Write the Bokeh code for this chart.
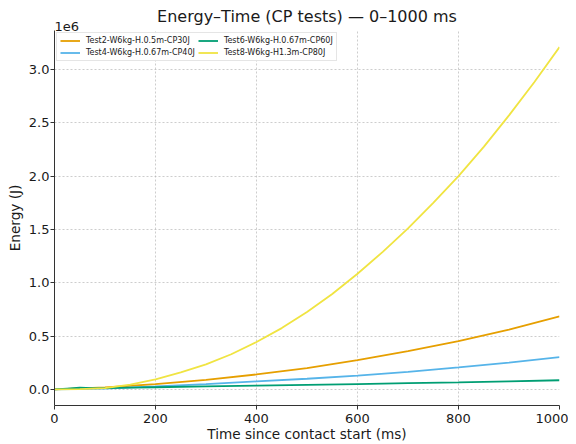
from bokeh.plotting import figure
from bokeh.models import Range1d, FixedTicker, CustomJSTickFormatter, Title, Legend, LegendItem
from bokeh.embed import file_html
from bokeh.resources import INLINE

# ---- data (time in ms, energy in J) ----
t_yellow = [0, 50, 100, 150, 200, 250, 300, 350, 400, 450, 500, 550, 600, 650, 700, 750, 800, 850, 900, 950, 1000]
e_test8 = [0, 0.002e6, 0.012e6, 0.045e6, 0.095e6, 0.16e6, 0.235e6, 0.33e6, 0.445e6, 0.575e6, 0.725e6,
           0.895e6, 1.085e6, 1.29e6, 1.51e6, 1.75e6, 2.0e6, 2.275e6, 2.57e6, 2.88e6, 3.21e6]

t_main = [0, 100, 200, 300, 400, 500, 600, 700, 800, 900, 1000]
e_test2 = [0, 0.018e6, 0.05e6, 0.09e6, 0.14e6, 0.2e6, 0.275e6, 0.36e6, 0.452e6, 0.56e6, 0.684e6]
e_test4 = [0, 0.008e6, 0.028e6, 0.05e6, 0.075e6, 0.1e6, 0.13e6, 0.165e6, 0.206e6, 0.252e6, 0.302e6]

t_green = [0, 25, 50, 75, 100, 150, 200, 300, 400, 500, 600, 700, 800, 900, 1000]
e_test6 = [0, 0.008e6, 0.016e6, 0.012e6, 0.012e6, 0.016e6, 0.02e6, 0.028e6, 0.036e6, 0.043e6,
           0.05e6, 0.058e6, 0.066e6, 0.076e6, 0.086e6]

labels = ["Test2-W6kg-H.0.5m-CP30J", "Test4-W6kg-H.0.67m-CP40J",
          "Test6-W6kg-H.0.67m-CP60J", "Test8-W6kg-H1.3m-CP80J"]
colors = ["#E69F00", "#56B4E9", "#009E73", "#F0E442"]

x_ticks = [0, 200, 400, 600, 800, 1000]
y_ticks = [0, 0.5e6, 1.0e6, 1.5e6, 2.0e6, 2.5e6, 3.0e6]

TITLE = "Energy–Time (CP tests) — 0–1000 ms"
OFFSET_TEXT = "1e6"
FONT = "DejaVu Sans"

p = figure(frame_width=505, frame_height=375,
           x_range=Range1d(0, 1000), y_range=Range1d(-0.151e6, 3.366e6),
           output_backend="svg", toolbar_location=None, title_location=None,
           min_border_left=0, min_border_right=9, min_border_top=0, min_border_bottom=0)
p.margin = (10, 0, 0, 3)

# scale-factor text: closest to the frame
p.add_layout(Title(text=OFFSET_TEXT, align="left", text_font=FONT, text_font_size="13px",
                   text_font_style="normal", text_color="#1a1a1a", standoff=0), "above")
# main title: outer, pulled down to share the row with the scale-factor text
p.add_layout(Title(text=TITLE, align="center", text_font=FONT, text_font_size="16px",
                   text_font_style="normal", text_color="#1a1a1a", standoff=-12), "above")

p.outline_line_color = None
p.background_fill_color = "white"
p.border_fill_color = "white"

series = [(t_main, e_test2), (t_main, e_test4), (t_green, e_test6), (t_yellow, e_test8)]
renderers = []
for (tx, ey), c in zip(series, colors):
    r = p.line(tx, ey, line_color=c, line_width=1.8)
    renderers.append(r)

# axes
for ax in (p.xaxis[0], p.yaxis[0]):
    ax.axis_line_color = "#333333"
    ax.axis_line_width = 1
    ax.major_tick_line_color = "#333333"
    ax.major_tick_out = 4
    ax.major_tick_in = 0
    ax.minor_tick_line_color = None
    ax.major_label_text_font = FONT
    ax.major_label_text_font_size = "13px"
    ax.major_label_text_color = "#1a1a1a"
    ax.axis_label_text_font = FONT
    ax.axis_label_text_font_size = "13.6px"
    ax.axis_label_text_font_style = "normal"
    ax.axis_label_text_color = "#1a1a1a"

p.xaxis[0].ticker = FixedTicker(ticks=x_ticks)
p.yaxis[0].ticker = FixedTicker(ticks=y_ticks)
p.yaxis[0].formatter = CustomJSTickFormatter(code="return (tick/1e6).toFixed(1);")
p.xaxis[0].axis_label = "Time since contact start (ms)"
p.yaxis[0].axis_label = "Energy (J)"
p.xaxis[0].major_label_standoff = 4
p.yaxis[0].major_label_standoff = 1
p.xaxis[0].axis_label_standoff = 0
p.yaxis[0].axis_label_standoff = 3

for g in (p.xgrid[0], p.ygrid[0]):
    g.grid_line_color = "#b0b0b0"
    g.grid_line_dash = "2 2"
    g.grid_line_width = 0.8
    g.grid_line_alpha = 0.8
p.xgrid[0].ticker = FixedTicker(ticks=x_ticks)
p.ygrid[0].ticker = FixedTicker(ticks=y_ticks)

legend = Legend(items=[LegendItem(label=l, renderers=[r]) for l, r in zip(labels, renderers)],
                location="top_left", ncols=2)
legend.label_text_font = FONT
legend.label_text_font_size = "8px"
legend.label_text_color = "#1a1a1a"
legend.label_height = 9
legend.glyph_height = 9
legend.glyph_width = 20
legend.label_standoff = 6
legend.spacing = 3
legend.padding = 3
legend.margin = 2
legend.border_line_color = "#cccccc"
legend.border_line_width = 1
legend.background_fill_alpha = 0.9
p.add_layout(legend)

open("out.html", "w").write(file_html(p, INLINE))
